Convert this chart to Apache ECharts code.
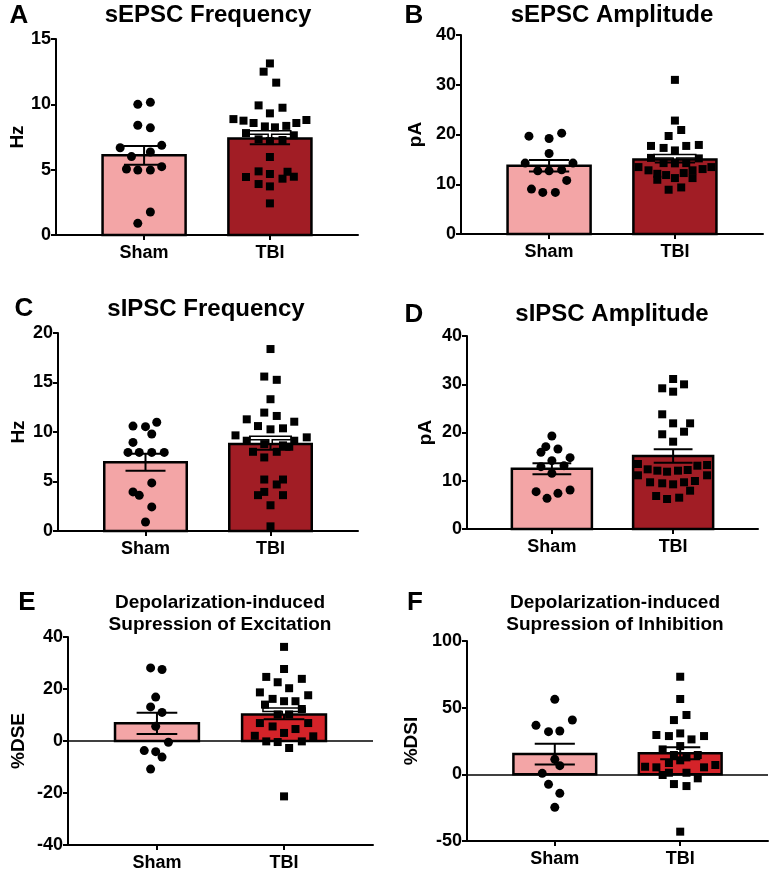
<!DOCTYPE html>
<html><head><meta charset="utf-8">
<script src="https://cdn.jsdelivr.net/npm/echarts@6/dist/echarts.min.js"></script>
<style>html,body{margin:0;padding:0;background:#fff}#c{width:771px;height:875px}</style>
</head><body><div id="c"></div>
<script>
const categories = ['Sham', 'TBI'];

// Panel A: sEPSC Frequency (Hz)
const aShamValues = [10.0, 10.15, 8.4, 8.2, 6.86, 6.68, 6.35, 6.0, 5.05, 4.97, 4.97, 5.23, 1.76, 0.89];
const aShamJitter = [-0.05, 0.05, -0.05, 0.05, 0.14, -0.19, 0.05, -0.1, -0.14, -0.05, 0.05, 0.14, 0.05, -0.05];
const aTbiValues = [13.13, 12.5, 11.66, 9.92, 9.74, 9.31, 8.87, 8.8, 8.75, 8.57, 8.57, 8.31, 8.24, 8.35, 7.8, 7.63, 7.32, 7.19, 7.27, 5.97, 4.87, 4.67, 4.44, 4.84, 4.31, 4.46, 3.9, 3.72, 2.42];
const aTbiJitter = [0, -0.05, 0.05, -0.09, 0.1, 0, -0.29, 0.29, -0.21, -0.13, 0.21, -0.04, 0.04, 0.13, -0.19, 0.19, -0.09, 0, 0.1, 0, -0.09, 0, -0.19, 0.14, 0.1, 0.19, -0.09, 0, 0];

// Panel B: sEPSC Amplitude (pA)
const bShamValues = [19.67, 19.2, 20.27, 16.19, 14.25, 14.25, 12.7, 12.7, 12.9, 10.77, 9.03, 8.36, 8.36];
const bShamJitter = [-0.16, 0, 0.1, 0, -0.19, 0.19, -0.09, 0, 0.1, 0.14, -0.14, -0.05, 0.05];
const bTbiValues = [30.98, 22.8, 20.9, 19.7, 17.7, 17.3, 16.8, 17.7, 17.9, 15.3, 15.2, 14.25, 14.2, 14.25, 13.45, 13.45, 12.8, 12.8, 12.1, 11.85, 12.25, 13.05, 10.9, 11.24, 11.24, 8.9, 9.36];
const bTbiJitter = [0, 0, 0.05, -0.05, -0.19, -0.09, 0, 0.09, 0.19, -0.19, 0.19, -0.09, 0, 0.09, -0.29, 0.29, -0.21, 0.14, -0.14, -0.07, 0.07, 0.22, -0.14, 0, 0.14, -0.05, 0.05];

// Panel C: sIPSC Frequency (Hz)
const cShamValues = [10.98, 10.6, 10.54, 9.8, 8.95, 7.94, 7.94, 7.94, 7.94, 4.86, 3.95, 3.6, 2.43, 0.91];
const cShamJitter = [0.09, -0.1, 0, 0.05, -0.1, -0.14, -0.05, 0.05, 0.15, 0.05, -0.1, -0.05, 0.05, 0];
const cTbiValues = [18.38, 15.6, 15.27, 13.31, 11.96, 11.62, 11.28, 11.04, 10.6, 10.37, 10.27, 9.66, 9.46, 9.12, 9.12, 8.78, 8.65, 8.51, 8.0, 8.0, 7.43, 5.2, 5.2, 4.7, 3.95, 3.62, 3.62, 2.6, 0.47];
const cTbiJitter = [0, -0.05, 0.05, 0, -0.05, 0.05, -0.19, 0.19, -0.1, 0.1, 0, -0.28, 0.29, -0.19, 0.19, -0.05, 0.1, 0.15, -0.14, 0.05, -0.05, -0.05, 0.1, 0.05, -0.05, -0.1, 0.1, 0, 0];

// Panel D: sIPSC Amplitude (pA)
const dShamValues = [19.27, 17.06, 16.58, 15.89, 14.78, 14.16, 12.92, 13.13, 11.54, 7.74, 7.39, 8.08, 6.36];
const dShamJitter = [0, -0.05, 0.05, -0.09, 0.15, 0, -0.09, 0.1, 0, -0.13, 0.05, 0.15, -0.04];
const dTbiValues = [31.09, 29.16, 29.98, 28.46, 23.77, 21.9, 21.9, 20.17, 19.63, 18.1, 13.47, 13.26, 13.12, 12.37, 12.09, 11.88, 12.09, 12.23, 11.13, 11.13, 9.68, 9.47, 9.26, 9.68, 9.95, 7.94, 6.84, 6.22, 6.49];
const dTbiJitter = [0, -0.09, 0.09, 0, -0.09, 0, 0.14, 0.09, -0.09, 0, -0.29, 0.28, 0.2, -0.21, -0.13, -0.05, 0.04, 0.12, -0.29, 0.28, -0.19, -0.09, 0, 0.09, 0.18, 0.14, -0.14, -0.05, 0.05];

// Panel E: %DSE
const eShamValues = [28.1, 27.5, 16.9, 13.1, 11.0, 5.65, -0.5, -3.7, -4.1, -6.2, -10.8];
const eShamJitter = [-0.05, 0.04, -0.01, -0.05, 0.04, -0.01, 0.09, -0.1, -0.01, 0.04, -0.05];
const eTbiValues = [36.2, 27.7, 24.65, 23.9, 22.6, 20.3, 18.7, 17.6, 16.2, 15.3, 15.3, 14.0, 12.3, 10.2, 10.2, 6.9, 5.6, 6.9, 4.6, 3.1, 2.0, 1.8, -0.15, -0.4, -0.15, -2.7, -21.3];
const eTbiJitter = [0, 0, -0.14, 0.14, -0.05, 0.04, -0.19, 0.19, -0.09, 0, 0.09, -0.15, 0.14, -0.05, 0.04, -0.19, -0.09, 0.19, 0.09, 0, -0.23, 0.23, -0.14, -0.05, 0.14, 0.04, 0];

// Panel F: %DSI
const fShamValues = [56.25, 36.75, 32, 32.5, 40.75, 11.25, 6.5, 0.75, -7.5, -14.25, -24.75];
const fShamJitter = [0, -0.15, -0.05, 0.04, 0.14, 0, 0.04, -0.1, -0.05, 0.04, 0];
const fTbiValues = [73.2, 56.5, 44.5, 40.7, 29.5, 28.7, 30.7, 26.2, 28.7, 18.7, 21.2, 14.5, 12.7, 14.5, 8.5, 10.5, 5.7, 5.25, 5.25, 7, 1.2, 1.2, -0.5, -3, -7.3, -8.8, -43];
const fTbiJitter = [0, 0, 0.05, -0.05, -0.19, -0.09, 0, 0.09, 0.19, -0.14, 0, -0.05, 0.05, 0.14, -0.09, 0, -0.28, -0.19, 0.19, 0.28, -0.09, 0.05, -0.14, 0.14, -0.05, 0.05, 0];

// Bar heights (mean) and error bars (SEM)
const groupMeans = [[6.1, 7.39], [13.7, 15.0], [6.95, 8.8], [12.5, 15.15], [6.8, 10.2], [15.2, 15.75]];
const groupSems  = [[0.72, 0.45], [1.15, 0.65], [0.86, 0.6], [1.15, 1.4], [4.1, 1.8], [7.8, 4.5]];

const panelLetters = ['A', 'B', 'C', 'D', 'E', 'F'];
const panelTitles = [['sEPSC Frequency'], ['sEPSC Amplitude'], ['sIPSC Frequency'], ['sIPSC Amplitude'],
  ['Depolarization-induced', 'Supression of Excitation'], ['Depolarization-induced', 'Supression of Inhibition']];
const yNames = ['Hz', 'pA', 'Hz', 'pA', '%DSE', '%DSI'];
const yMin = [0, 0, 0, 0, -40, -50];
const yMax = [15, 40, 20, 40, 40, 100];
const yStep = [5, 10, 5, 10, 20, 50];

const shamValues = [aShamValues, bShamValues, cShamValues, dShamValues, eShamValues, fShamValues];
const shamJitter = [aShamJitter, bShamJitter, cShamJitter, dShamJitter, eShamJitter, fShamJitter];
const tbiValues = [aTbiValues, bTbiValues, cTbiValues, dTbiValues, eTbiValues, fTbiValues];
const tbiJitter = [aTbiJitter, bTbiJitter, cTbiJitter, dTbiJitter, eTbiJitter, fTbiJitter];

// ---- layout / style ----
const FONT = '"Liberation Sans", Arial, sans-serif';
const PINK = '#F3A5A6', DARKRED = '#A11D25', RED = '#D42329';
const grids = [
  {left: 56, top: 39, width: 302, height: 196},
  {left: 461, top: 35, width: 302, height: 199},
  {left: 58, top: 333, width: 300, height: 198},
  {left: 467, top: 336, width: 291, height: 193},
  {left: 68, top: 637, width: 305, height: 208},
  {left: 467, top: 641, width: 301, height: 200}
];
const nameGaps = [20, 36, 30, 32, 40, 46];
const barColors = [[PINK, DARKRED], [PINK, DARKRED], [PINK, DARKRED], [PINK, DARKRED], [PINK, RED], [PINK, RED]];
const whiteUpper = [[false, true], [false, true], [false, true], [false, false], [false, true], [false, false]];
const letterPos = [[19, 16], [414, 16], [24, 309], [414, 315], [27, 603], [415, 603]];
const titlePos = [[208, 15], [612, 15], [206, 309], [612, 314], [220, 603], [615, 603]];

function makeRender(p) {
  return function (params, api) {
    const x = api.value(0), m = api.value(1), s = api.value(2);
    const idx = params.dataIndex;
    const hw = 0.33, cap = 0.16;
    const tl = api.coord([x - hw, m]), br = api.coord([x + hw, 0]);
    const ch = [];
    ch.push({type: 'rect', shape: {x: tl[0], y: Math.min(tl[1], br[1]), width: br[0] - tl[0], height: Math.abs(br[1] - tl[1])},
      style: {fill: barColors[p][idx], stroke: '#000', lineWidth: 2.5}});
    const top = api.coord([x, m + s]), bot = api.coord([x, m - s]), mid = api.coord([x, m]);
    const cl = api.coord([x - cap, m])[0], cr = api.coord([x + cap, m])[0];
    const blk = {stroke: '#000', lineWidth: 2};
    ch.push({type: 'line', shape: {x1: mid[0], y1: mid[1], x2: bot[0], y2: bot[1]}, style: blk});
    ch.push({type: 'line', shape: {x1: cl, y1: bot[1], x2: cr, y2: bot[1]}, style: blk});
    if (whiteUpper[p][idx]) {
      const o = {stroke: '#000', lineWidth: 5};
      const w = {stroke: '#fff', lineWidth: 2};
      ch.push({type: 'line', shape: {x1: mid[0], y1: mid[1], x2: top[0], y2: top[1]}, style: o});
      ch.push({type: 'line', shape: {x1: cl - 1.5, y1: top[1], x2: cr + 1.5, y2: top[1]}, style: o});
      ch.push({type: 'line', shape: {x1: mid[0], y1: mid[1] - 1, x2: top[0], y2: top[1]}, style: w});
      ch.push({type: 'line', shape: {x1: cl, y1: top[1], x2: cr, y2: top[1]}, style: w});
    } else {
      ch.push({type: 'line', shape: {x1: mid[0], y1: mid[1], x2: top[0], y2: top[1]}, style: blk});
      ch.push({type: 'line', shape: {x1: cl, y1: top[1], x2: cr, y2: top[1]}, style: blk});
    }
    return {type: 'group', children: ch};
  };
}

const option = {animation: false, backgroundColor: '#fff', grid: [], xAxis: [], yAxis: [], series: [], graphic: []};

for (let p = 0; p < 6; p++) {
  option.grid.push(Object.assign({containLabel: false}, grids[p]));
  option.xAxis.push({
    type: 'value', gridIndex: p, min: 0.3, max: 2.7,
    axisLine: {show: true, onZero: false, lineStyle: {color: '#000', width: 2}},
    axisTick: {show: true, customValues: [1, 2], length: 5, lineStyle: {color: '#000', width: 2}},
    axisLabel: {show: true, customValues: [1, 2], margin: 9, color: '#000', fontFamily: FONT, fontWeight: 'bold', fontSize: 18,
      formatter: v => categories[Math.round(v) - 1] || ''},
    splitLine: {show: false}
  });
  option.yAxis.push({
    type: 'value', gridIndex: p, min: yMin[p], max: yMax[p], interval: yStep[p],
    name: yNames[p], nameLocation: 'middle', nameGap: nameGaps[p], nameRotate: 90,
    nameTextStyle: {color: '#000', fontFamily: FONT, fontWeight: 'bold', fontSize: 19},
    axisLine: {show: true, lineStyle: {color: '#000', width: 2}},
    axisTick: {show: true, length: 5, lineStyle: {color: '#000', width: 2}},
    axisLabel: {margin: 5, color: '#000', fontFamily: FONT, fontWeight: 'bold', fontSize: 18},
    splitLine: {show: false}
  });
  const bars = {
    type: 'custom', xAxisIndex: p, yAxisIndex: p, z: 2, silent: true,
    renderItem: makeRender(p), encode: {x: 0, y: 1},
    data: [[1, groupMeans[p][0], groupSems[p][0]], [2, groupMeans[p][1], groupSems[p][1]]]
  };
  if (yMin[p] < 0) {
    bars.markLine = {silent: true, symbol: 'none', label: {show: false}, animation: false,
      lineStyle: {color: '#000', width: 1.5, type: 'solid'}, data: [{yAxis: 0}]};
  }
  option.series.push(bars);
  option.series.push({
    type: 'scatter', xAxisIndex: p, yAxisIndex: p, z: 5, silent: true,
    symbol: 'circle', symbolSize: 9, itemStyle: {color: '#000', opacity: 1},
    data: shamValues[p].map((v, i) => [1 + shamJitter[p][i], v])
  });
  option.series.push({
    type: 'scatter', xAxisIndex: p, yAxisIndex: p, z: 5, silent: true,
    symbol: 'rect', symbolSize: 8, itemStyle: {color: '#000', opacity: 1},
    data: tbiValues[p].map((v, i) => [2 + tbiJitter[p][i], v])
  });
  option.graphic.push({type: 'text', x: letterPos[p][0], y: letterPos[p][1],
    style: {text: panelLetters[p], font: 'bold 26px ' + FONT, fill: '#000', textAlign: 'center', textVerticalAlign: 'middle', align: 'center', verticalAlign: 'middle'}});
  const lines = panelTitles[p];
  const fs = lines.length > 1 ? 19 : 24;
  lines.forEach((t, k) => {
    option.graphic.push({type: 'text', x: titlePos[p][0], y: titlePos[p][1] + k * 22,
      style: {text: t, font: 'bold ' + fs + 'px ' + FONT, fill: '#000', textAlign: 'center', textVerticalAlign: 'middle', align: 'center', verticalAlign: 'middle'}});
  });
}

const chart = echarts.init(document.getElementById('c'), null, {renderer: 'canvas'});
chart.setOption(option);
</script></body></html>
